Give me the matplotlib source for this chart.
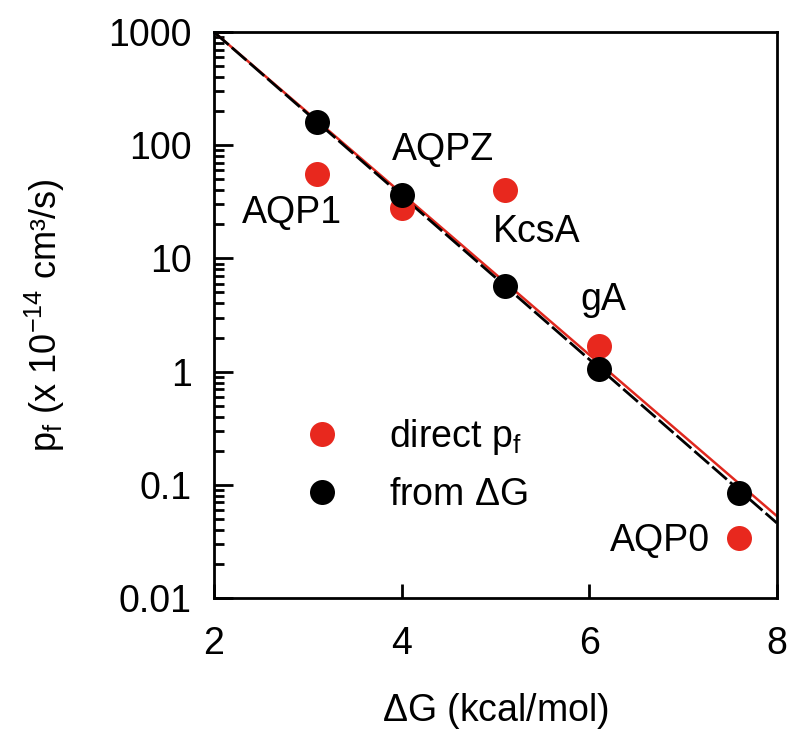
import numpy as np
import matplotlib.pyplot as plt

plt.rcParams['font.family'] = ['Liberation Sans', 'DejaVu Sans']
plt.rcParams['mathtext.fontset'] = 'custom'
plt.rcParams['mathtext.rm'] = 'Liberation Sans'

# channel data
names = ['AQP1', 'AQPZ', 'KcsA', 'gA', 'AQP0']
dG = [3.1, 4.0, 5.1, 6.1, 7.6]
pf_direct = [56, 28, 40, 1.7, 0.034]
pf_from_dG = [160, 36, 5.7, 1.05, 0.085]

# label positions (data coords)
label_x = [2.83, 4.44, 5.44, 6.15, 6.75]
label_y = [25, 91, 17, 4.3, 0.032]

# fitted lines
fit_x = [2, 8]
fit_red = [1000, 0.053]
fit_black = [1000, 0.046]

fig = plt.figure(figsize=(8, 7.5), dpi=100)
ax = fig.add_axes([0.2675, 0.2027, 0.7035, 0.7546])

ax.plot(fit_x, fit_red, color='#e0281e', lw=1.8, zorder=2)
ax.plot(fit_x, fit_black, color='black', lw=2, dashes=(7, 1.5), zorder=2)

ax.plot(dG, pf_direct, 'o', color='#e8281e', ms=18, mew=0, label=r'direct p$_\mathregular{f}$', zorder=3)
ax.plot(dG, pf_from_dG, 'o', color='black', ms=18, mew=0, label=r'from $\Delta$G', zorder=4)

for n, x, y in zip(names, label_x, label_y):
    ax.text(x, y, n, fontsize=27, ha='center', va='center')

ax.set_yscale('log')
ax.set_xlim(2, 8)
ax.set_ylim(0.01, 1000)
ax.set_xticks([2, 4, 6, 8])
ax.set_yticks([0.01, 0.1, 1, 10, 100, 1000])
ax.set_yticklabels(['0.01', '0.1', '1', '10', '100', '1000'])
ax.tick_params(axis='both', which='both', direction='in', labelsize=27, width=2)
ax.tick_params(axis='y', which='major', length=14, pad=16)
ax.tick_params(axis='y', which='minor', length=7)
ax.tick_params(axis='x', which='major', length=10, pad=20)
for s in ax.spines.values():
    s.set_linewidth(2)

ax.set_xlabel(r'$\Delta$G (kcal/mol)', fontsize=27, labelpad=21)
ax.set_ylabel(r'p$_\mathregular{f}$ (x 10$^{\mathregular{-14}}$ cm³/s)', fontsize=26, labelpad=30)

ax.legend(loc='lower left', bbox_to_anchor=(0.065, 0.09), frameon=False, fontsize=27,
          handletextpad=0.8, labelspacing=0.55, markerscale=1.0)

fig.savefig('out.png', dpi=100)
